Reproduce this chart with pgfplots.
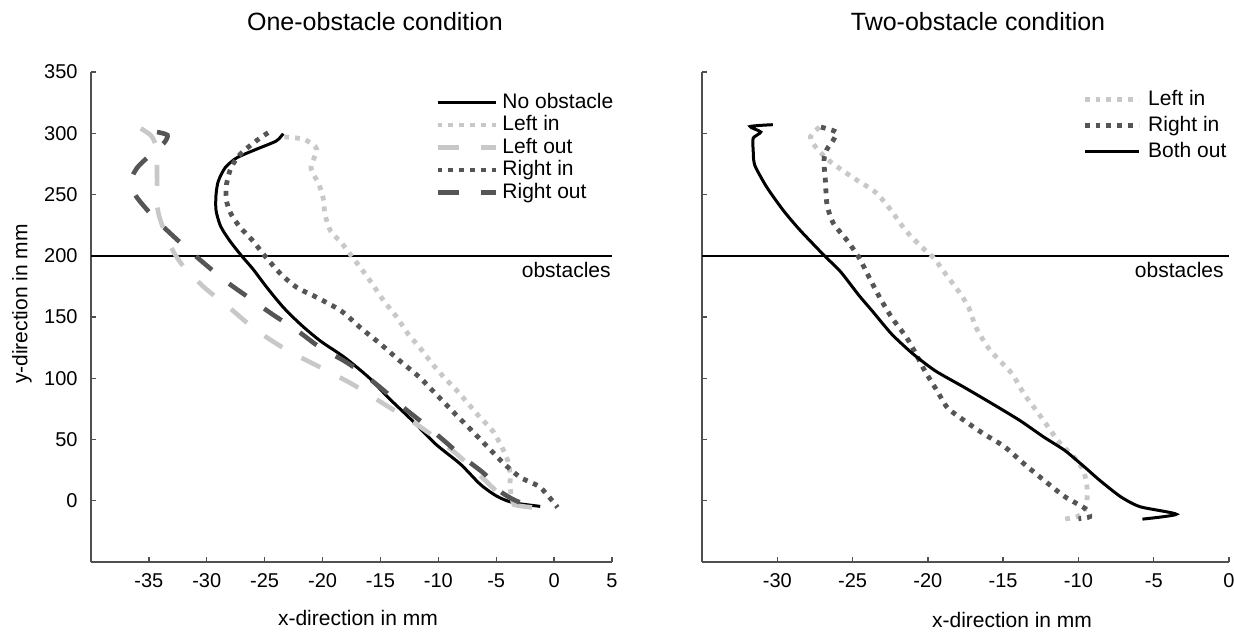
\documentclass[border=0pt]{standalone}
\usepackage{fontspec}
\setmainfont{Liberation Sans}
\usepackage{pgfplots}
\pgfplotsset{compat=1.18}
\definecolor{lightg}{RGB}{200,200,200}
\definecolor{darkg}{RGB}{85,85,85}
\definecolor{axisg}{RGB}{80,80,80}

\pgfplotsset{
  traj/.style={
    scale only axis, height=245pt,
    ymin=-50, ymax=350, ytick={0,50,...,350},
    axis x line*=bottom, axis y line*=left,
    axis line style={-, draw=axisg, line width=0.7pt},
    tick align=inside, major tick length=2.5pt,
    major tick style={draw=axisg, line width=0.7pt},
    tick label style={font=\fontsize{10}{12}\selectfont},
    xticklabel style={inner sep=0pt, yshift=-5.5pt},
    yticklabel style={inner sep=0pt, xshift=-6.5pt},
    /pgf/number format/assume math mode=true,
    legend cell align=left,
    legend style={draw=none, fill=none, inner sep=0pt, row sep=1.25pt, anchor=north west,
      nodes={inner sep=0pt, text height=8pt, text depth=2pt, font=\fontsize{10.5}{12}\selectfont}},
    legend image code/.code={\draw[#1] (0pt,0pt) -- (29pt,0pt); \path (31.2pt,0pt);},
  },
  solidl/.style={black, line width=1.5pt, smooth, tension=0.45},
  ldot/.style={lightg, line width=2.4pt, dash pattern=on 2.4pt off 3pt, smooth, tension=0.45},
  ddot/.style={darkg, line width=2.4pt, dash pattern=on 2.4pt off 3pt, smooth, tension=0.45},
  ldash/.style={lightg, line width=2.3pt, dash pattern=on 10.5pt off 11pt, smooth, tension=0.45},
  ddash/.style={darkg, line width=2.3pt, dash pattern=on 10.5pt off 11pt, smooth, tension=0.45},
}

\begin{document}
\begin{tikzpicture}
% one obstacle
\begin{axis}[traj, at={(0pt,0pt)}, anchor=south west,
  width=260.5pt, xmin=-40, xmax=5, xtick={-35,-30,...,5},
  legend style={at={(0.66,0.959)}}]
\addplot[black, line width=0.75pt, forget plot] coordinates {(-40,200) (5,200)};
\addplot[solidl] coordinates {
  (-23.4,299.7) (-24.0,293.7) (-25.7,287) (-27.4,280) (-28.4,272) (-29.0,261)
  (-29.2,250) (-29.2,237) (-28.8,224) (-28.0,212) (-27.0,200) (-26.0,189)
  (-24.8,174) (-23.4,158) (-21.9,144) (-20.2,130.5) (-18.1,117) (-16.0,100.6)
  (-14.3,84) (-12.2,65) (-10.2,46) (-8.1,30) (-6.4,13.6) (-5.0,4) (-3.6,-1.4) (-1.2,-4.6)};
\addlegendentry{No obstacle}
\addplot[ldot] coordinates {
  (-23.3,297) (-21.6,295) (-20.5,287) (-21.0,272) (-20.3,258) (-19.9,245)
  (-19.8,234) (-19.3,220) (-18.4,211) (-17.6,201) (-16.7,190) (-15.7,177)
  (-14.7,163) (-13.6,150) (-12.6,136) (-11.6,125) (-10.5,111.5) (-9.5,100.6)
  (-8.4,90) (-7.4,79) (-6.4,68) (-5.3,57) (-4.5,43.5) (-4.0,32.6) (-3.8,21.8)
  (-3.8,10.9) (-3.6,0) (-3.3,-5.4)};
\addlegendentry{Left in}
\addplot[ldash] coordinates {
  (-35.7,304) (-34.8,298) (-34.4,290) (-34.3,280) (-34.3,269) (-34.3,257)
  (-34.4,247) (-34.1,232) (-33.5,216) (-32.8,202) (-31.9,190) (-30.2,174)
  (-28.1,158) (-25.7,139) (-22.9,122) (-20.2,109) (-17.4,95) (-14.7,79)
  (-11.9,62.5) (-9.1,43.5) (-7.1,27) (-5.0,8) (-3.6,-2.7) (-1.9,-5.4)};
\addlegendentry{Left out}
\addplot[ddot] coordinates {
  (-24.7,300.5) (-25.7,294) (-27.1,283) (-27.9,272) (-28.3,258) (-28.3,245)
  (-27.9,234) (-27.1,223) (-26.0,212) (-25.0,200) (-23.6,185) (-22.2,174)
  (-20.5,166) (-18.4,155) (-16.7,141) (-15.0,128) (-13.3,114) (-11.6,100.6)
  (-10.2,87) (-8.8,73.4) (-7.4,60) (-5.7,43.5) (-4.3,30) (-2.9,19) (-1.2,10.9) (0.3,-5.4)};
\addlegendentry{Right in}
\addplot[ddash] coordinates {
  (-34.3,301) (-33.4,298.5) (-33.7,292) (-34.8,283) (-36.0,272) (-36.5,262)
  (-36.2,250) (-35.2,238) (-33.9,225) (-32.2,210) (-30.5,196) (-28.4,179.5)
  (-26.4,166) (-24.3,152) (-22.2,139) (-20.2,125) (-18.1,114) (-16.4,103)
  (-14.7,90) (-13.0,76) (-11.2,62.5) (-9.5,49) (-7.8,35) (-6.0,21.8) (-4.7,8)
  (-3.3,0) (-1.6,-5.4)};
\addlegendentry{Right out}
\node[anchor=north east, inner sep=0pt, xshift=-0.5pt, yshift=-3pt,
  font=\fontsize{10.5}{12}\selectfont] at (axis cs:5,200) {obstacles};
\end{axis}

% two obstacles
\begin{axis}[traj, at={(305.5pt,0pt)}, anchor=south west,
  width=263.5pt, xmin=-35, xmax=0, xtick={-30,-25,...,0}, yticklabels={},
  legend image code/.code={\draw[#1] (0pt,0pt) -- (27pt,0pt); \path (30.5pt,0pt);},
  legend style={at={(0.721,0.965)}, row sep=3pt}]
\addplot[black, line width=0.75pt, forget plot] coordinates {(-35,200) (0,200)};
\addplot[ldot] coordinates {
  (-27.2,305) (-27.8,297) (-27.4,288) (-26.5,277) (-25.0,264) (-23.5,252)
  (-22.5,238) (-21.5,221) (-20.4,207) (-19.6,198) (-18.7,183) (-17.9,170)
  (-17.3,158) (-16.8,141.5) (-16.0,125) (-15.2,114) (-14.4,103.5) (-13.6,87)
  (-12.8,73.7) (-12.0,60) (-11.2,46.6) (-10.1,33) (-9.6,22) (-9.4,6)
  (-9.6,-7.6) (-10.1,-13) (-11.2,-15.5)};
\addlegendentry{Left in}
\addplot[ddot] coordinates {
  (-27.1,305) (-26.1,301) (-26.3,294) (-26.7,287) (-26.9,278) (-26.8,260)
  (-26.7,242) (-26.3,227) (-25.4,213) (-24.6,199) (-23.8,180) (-23.2,166)
  (-22.4,149.6) (-21.4,133) (-20.8,120) (-20.2,106) (-19.4,90) (-18.7,76)
  (-17.6,65.6) (-16.3,54.7) (-14.9,44) (-13.6,30) (-12.3,16.8) (-10.9,3.3)
  (-9.6,-6) (-9.25,-13) (-10.0,-14.7)};
\addlegendentry{Right in}
\addplot[solidl, tension=0.4] coordinates {
  (-30.3,307) (-31.8,305.5) (-31.1,301) (-31.6,296) (-31.6,286) (-31.5,274)
  (-30.7,256) (-29.6,237) (-28.5,221) (-26.9,200.4) (-25.8,187) (-24.6,168)
  (-23.7,155) (-22.4,136) (-21.0,120) (-19.5,106) (-17.6,92.7) (-15.7,79)
  (-13.9,65.6) (-12.3,52) (-10.9,41) (-9.6,27.6) (-8.6,16.8) (-7.2,3.3)
  (-5.9,-4.9) (-3.5,-11) (-5.75,-15)};
\addlegendentry{Both out}
\node[anchor=north east, inner sep=0pt, xshift=-2.5pt, yshift=-3pt,
  font=\fontsize{10.5}{12}\selectfont] at (axis cs:0,200) {obstacles};
\end{axis}

\node[font=\fontsize{12.5}{15}\selectfont] at (142pt,270pt) {One-obstacle condition};
\node[font=\fontsize{12.5}{15}\selectfont] at (443.5pt,270pt) {Two-obstacle condition};
\node[font=\fontsize{10.5}{12}\selectfont] at (133.5pt,-28pt) {x-direction in mm};
\node[font=\fontsize{10.5}{12}\selectfont] at (460.5pt,-29pt) {x-direction in mm};
\node[font=\fontsize{10.5}{12}\selectfont, rotate=90] at (-34.5pt,129pt) {y-direction in mm};

\pgfresetboundingbox
\path[use as bounding box] (-45.5pt,-37.5pt) rectangle (571.5pt,281pt);
\end{tikzpicture}
\end{document}
